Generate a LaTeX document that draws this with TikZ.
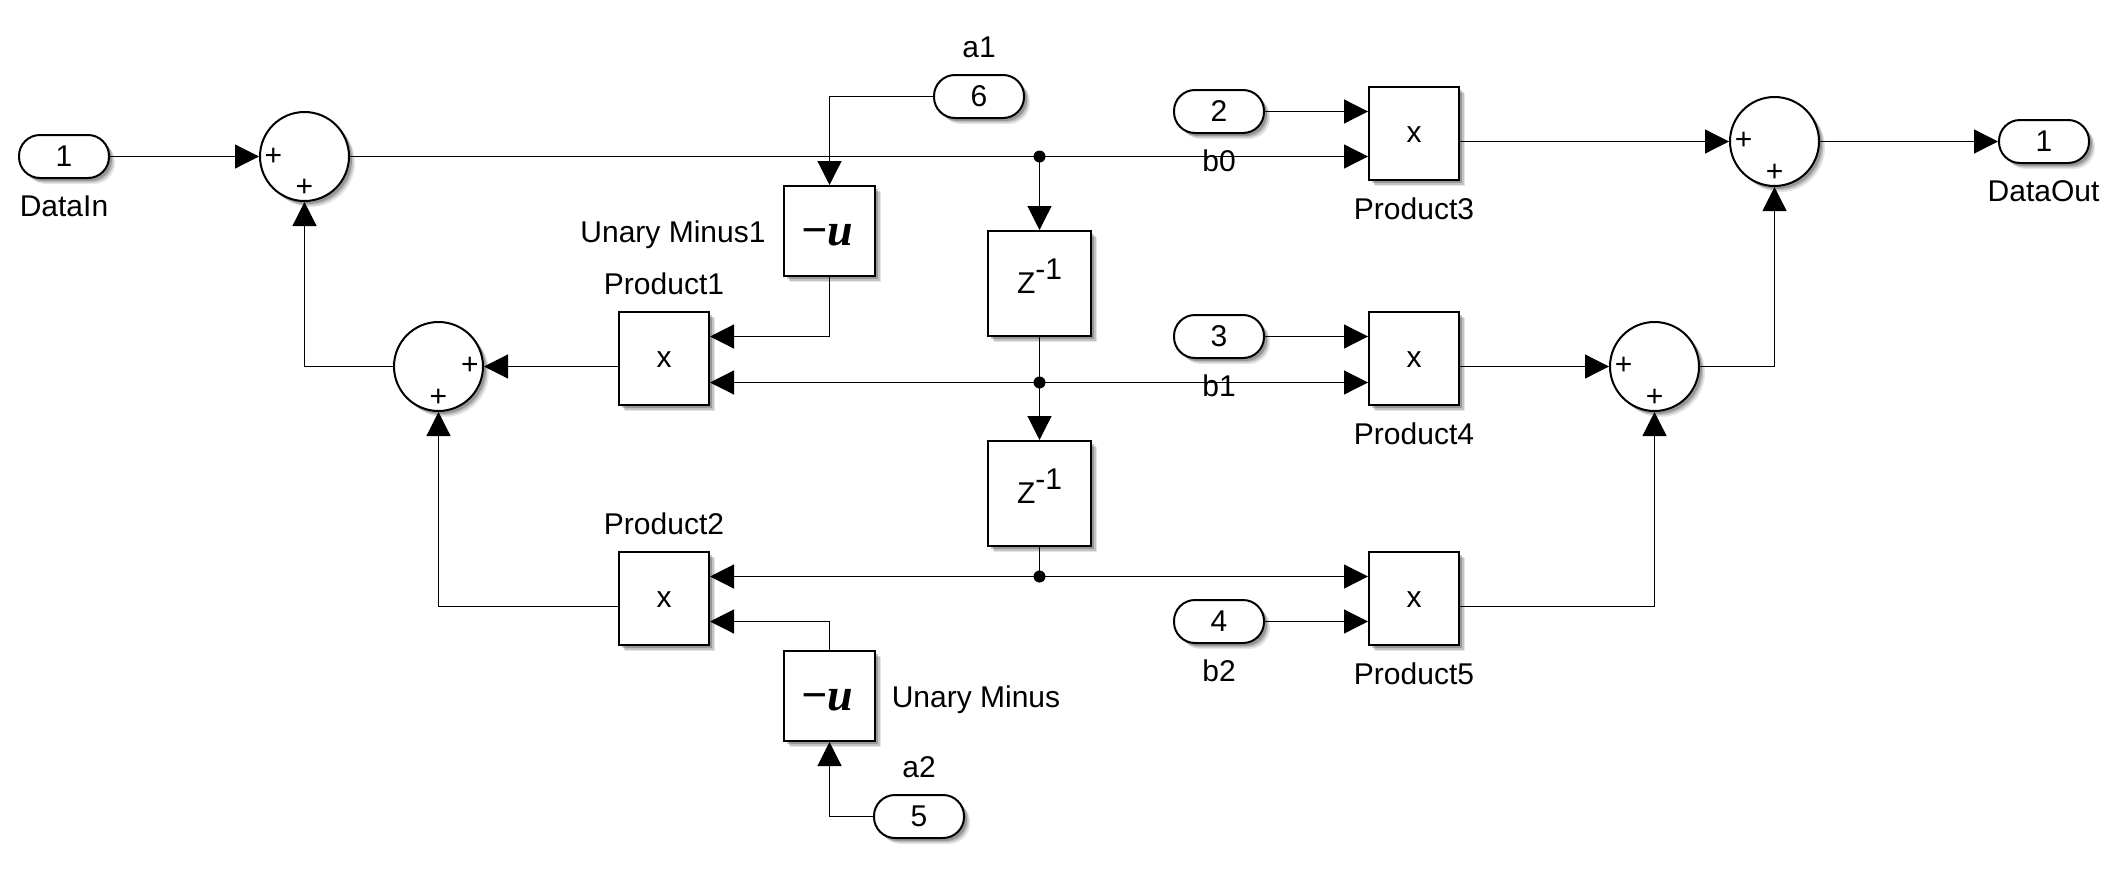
\documentclass[tikz,border=0pt]{standalone}
\usepackage{fontspec}
\setmainfont{Liberation Sans}
\newfontfamily\umfont{Liberation Serif}
\usetikzlibrary{arrows.meta,shadows,calc}
\tikzset{
  softshadow/.style={
    general shadow={fill=black,opacity=.10,shadow xshift=6pt,shadow yshift=-6pt},
    general shadow={fill=black,opacity=.15,shadow xshift=4.5pt,shadow yshift=-4.5pt},
    general shadow={fill=black,opacity=.22,shadow xshift=3pt,shadow yshift=-3pt}},
  blockbox/.style={draw=black,line width=2pt,fill=white,inner sep=0pt,minimum width=90pt,minimum height=93pt,softshadow},
  umbox/.style={draw=black,line width=2pt,fill=white,inner sep=0pt,minimum width=91pt,minimum height=90pt,softshadow},
  zbox/.style={draw=black,line width=2pt,fill=white,inner sep=0pt,minimum width=103pt,minimum height=105pt,softshadow},
  sumnode/.style={circle,draw=black,line width=2pt,fill=white,inner sep=0pt,minimum size=89pt,softshadow},
  pill/.style={draw=black,line width=2pt,fill=white,inner sep=0pt,minimum width=90pt,minimum height=43pt,rounded corners=21pt,softshadow},
  lab/.style={inner sep=0pt,text height=21pt,text depth=0pt},
  plus/.style={inner sep=0pt},
  wire/.style={draw=black,line width=1.2pt},
  arr/.style={wire,-{Triangle[length=24pt,width=24pt]}},
  dotj/.style={circle,fill=black,inner sep=0pt,minimum size=12pt}
}
\newcommand{\umtext}{\raisebox{-14pt}[0pt][0pt]{\fontsize{46}{50}\selectfont\umfont\bfseries\itshape\kern-5.4pt −u}}
\newcommand{\ztext}{Z\smash{\raisebox{14pt}{-1}}}
\newcommand{\xtext}{\raisebox{-9pt}[0pt][0pt]{x}}
\begin{document}
\begin{tikzpicture}[x=1pt,y=-1pt,font=\fontsize{30}{36}\selectfont]
\useasboundingbox (0,0) rectangle (2122,870);
% ports
\node[pill] (in1) at (64,156.5) {1};
\node[pill] (p2) at (1219,111.5) {2};
\node[pill] (p3) at (1219,336.5) {3};
\node[pill] (p4) at (1219,621.5) {4};
\node[pill] (p5) at (919,816.5) {5};
\node[pill] (p6) at (979,96.5) {6};
\node[pill] (out1) at (2044,141.5) {1};
% sums
\node[sumnode] (s1) at (304.5,156.5) {};
\node[sumnode] (s2) at (438.5,366.5) {};
\node[sumnode] (s3) at (1654.5,366.5) {};
\node[sumnode] (s4) at (1774.5,141.5) {};
% blocks
\node[blockbox] (m1) at (664,358.5) {\xtext};
\node[blockbox] (m2) at (664,598.5) {\xtext};
\node[blockbox] (m3) at (1414,133.5) {\xtext};
\node[blockbox] (m4) at (1414,358.5) {\xtext};
\node[blockbox] (m5) at (1414,598.5) {\xtext};
\node[umbox] (u1) at (829.5,231) {\umtext};
\node[umbox] (u2) at (829.5,696) {\umtext};
\node[zbox] (z1) at (1039.5,283.5) {\ztext};
\node[zbox] (z2) at (1039.5,493.5) {\ztext};
% junctions
\node[dotj] (j0) at (1039.5,156.5) {};
\node[dotj] (j1) at (1039.5,382.5) {};
\node[dotj] (j2) at (1039.5,576.5) {};
% corner points
\coordinate (c6) at (u1.north |- p6.west);
\coordinate (c5) at (u2.south |- p5.west);
\coordinate (cu1) at (u1.south |- 0,336.5);
\coordinate (cu2) at (u2.north |- 0,621.5);
% connectors
\draw[arr] (in1.east) -- (s1.west);
\draw[wire] (s1.east) -- (j0.center);
\draw[arr] (j0.center) -- (m3.west |- j0.center);
\draw[arr] (p2.east) -- (m3.west |- p2.east);
\draw[arr] (m3.east |- s4.west) -- (s4.west);
\draw[arr] (s4.east) -- (out1.west);
\draw[arr] (j0.center) -- (z1.north);
\draw[wire] (z1.south) -- (j1.center);
\draw[arr] (j1.center) -- (z2.north);
\draw[arr] (j1.center) -- (m1.east |- j1.center);
\draw[arr] (j1.center) -- (m4.west |- j1.center);
\draw[arr] (p3.east) -- (m4.west |- p3.east);
\draw[arr] (m4.east |- s3.west) -- (s3.west);
\draw[arr] (s3.east) -| (s4.south);
\draw[wire] (z2.south) -- (j2.center);
\draw[arr] (j2.center) -- (m2.east |- j2.center);
\draw[arr] (j2.center) -- (m5.west |- j2.center);
\draw[arr] (p4.east) -- (m5.west |- p4.east);
\draw[arr] (m5.east |- 0,606.5) -| (s3.south);
\draw[arr] (p6.west) -- (c6) -- (u1.north);
\draw[arr] (u1.south) -- (cu1) -- (m1.east |- cu1);
\draw[arr] (m1.west |- s2.east) -- (s2.east);
\draw[arr] (s2.west) -| (s1.south);
\draw[arr] (m2.west |- 0,606.5) -| (s2.south);
\draw[arr] (u2.north) -- (cu2) -- (m2.east |- cu2);
\draw[arr] (p5.west) -- (c5) -- (u2.south);
% plus signs
\node[plus] (s1a) at (273.5,157) {+};
\node[plus] (s1b) at (304.5,188) {+};
\node[plus] (s2a) at (470,366) {+};
\node[plus] (s2b) at (438.5,398) {+};
\node[plus] (s3a) at (1623.5,366) {+};
\node[plus] (s3b) at (1654.5,398) {+};
\node[plus] (s4a) at (1743.5,141) {+};
\node[plus] (s4b) at (1774.5,173) {+};
% labels
\node[lab] (l1) at (64,206) {DataIn};
\node[lab] (l2) at (2043.5,191) {DataOut};
\node[lab] (l3) at (979,47) {a1};
\node[lab] (l4) at (919,767) {a2};
\node[lab] (l5) at (1219,161) {b0};
\node[lab] (l6) at (1219,386) {b1};
\node[lab] (l7) at (1219,671) {b2};
\node[lab] (l8) at (1414,209) {Product3};
\node[lab] (l9) at (1414,434) {Product4};
\node[lab] (l10) at (1414,674) {Product5};
\node[lab] (l11) at (664,284) {Product1};
\node[lab] (l12) at (664,524) {Product2};
\node[lab] (l13) at (673,232) {Unary Minus1};
\node[lab] (l14) at (976,697) {Unary Minus};
\end{tikzpicture}
\end{document}
